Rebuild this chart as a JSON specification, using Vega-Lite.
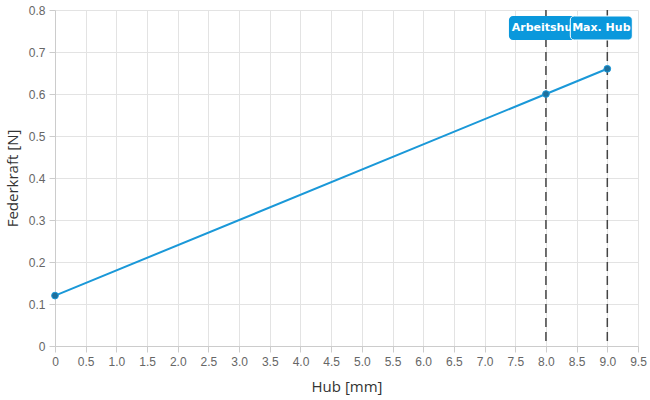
{
  "$schema": "https://vega.github.io/schema/vega-lite/v6.json",
  "width": 583,
  "height": 336,
  "autosize": {"type": "none"},
  "padding": {"left": 55, "top": 10, "right": 12, "bottom": 54},
  "config": {
    "view": {"stroke": null},
    "font": "Open Sans",
    "axis": {
      "gridColor": "#e3e3e3",
      "domainColor": "#cccccc",
      "tickColor": "#cccccc",
      "labelColor": "#666666",
      "labelFontSize": 12,
      "labelOverlap": false,
      "labelFlush": false,
      "labelFont": "Liberation Sans",
      "titleColor": "#333333",
      "titleFontSize": 15,
      "titleFontWeight": "normal",
      "tickSize": 6
    }
  },
  "datasets": {
    "pts": [
      {"hub": 0, "kraft": 0.12},
      {"hub": 8, "kraft": 0.6},
      {"hub": 9, "kraft": 0.66}
    ],
    "marks": [
      {"hub": 8, "label": "Arbeitshub"},
      {"hub": 9, "label": "Max. Hub"}
    ]
  },
  "encoding": {
    "x": {"field": "hub", "type": "quantitative", "title": "Hub [mm]",
      "scale": {"domain": [0, 9.5], "nice": false, "zero": false, "padding": 0},
      "axis": {"values": [0,0.5,1,1.5,2,2.5,3,3.5,4,4.5,5,5.5,6,6.5,7,7.5,8,8.5,9,9.5],
        "labelExpr": "datum.value == 0 ? '0' : format(datum.value, '.1f')",
        "labelPadding": 4, "titleY": 40, "titleBaseline": "middle"}}
  },
  "layer": [
    {
      "data": {"name": "pts"},
      "mark": {"type": "line", "color": "#1a98d8", "strokeWidth": 2},
      "encoding": {
        "y": {"field": "kraft", "type": "quantitative", "title": "Federkraft [N]",
          "scale": {"domain": [0, 0.8], "nice": false, "padding": 0},
          "axis": {"values": [0,0.1,0.2,0.3,0.4,0.5,0.6,0.7,0.8],
            "labelExpr": "datum.value == 0 ? '0' : format(datum.value, '.1f')",
            "labelPadding": 4, "titleX": -43, "titleBaseline": "middle"}}
      }
    },
    {
      "data": {"name": "marks"},
      "mark": {"type": "rule", "color": "#444444", "strokeWidth": 1.5, "strokeDash": [9, 5]},
      "encoding": {
        "y": {"datum": 0.8},
        "y2": {"datum": 0}
      }
    },
    {
      "data": {"name": "pts"},
      "mark": {"type": "point", "filled": true, "size": 45, "color": "#1e6f9c", "stroke": "#1a98d8", "strokeWidth": 1, "opacity": 1},
      "encoding": {
        "y": {"field": "kraft", "type": "quantitative"}
      }
    },
    {
      "data": {"name": "marks"},
      "transform": [{"filter": "datum.label == 'Arbeitshub'"}],
      "mark": {"type": "bar", "width": 74, "color": "#0a98dc", "cornerRadius": 4},
      "encoding": {
        "y": {"datum": 0.7857},
        "y2": {"datum": 0.7286}
      }
    },
    {
      "data": {"name": "marks"},
      "transform": [{"filter": "datum.label == 'Arbeitshub'"}],
      "mark": {"type": "text", "color": "white", "font": "DejaVu Sans", "fontWeight": "bold", "fontSize": 11, "align": "center", "baseline": "middle"},
      "encoding": {
        "y": {"datum": 0.757},
        "text": {"field": "label"}
      }
    },
    {
      "data": {"name": "marks"},
      "transform": [{"filter": "datum.label == 'Max. Hub'"}],
      "mark": {"type": "bar", "width": 62, "xOffset": -6, "color": "#0a98dc", "cornerRadius": 4, "stroke": "white", "strokeWidth": 1},
      "encoding": {
        "y": {"datum": 0.7857},
        "y2": {"datum": 0.7286}
      }
    },
    {
      "data": {"name": "marks"},
      "transform": [{"filter": "datum.label == 'Max. Hub'"}],
      "mark": {"type": "text", "color": "white", "font": "DejaVu Sans", "fontWeight": "bold", "fontSize": 11, "align": "center", "baseline": "middle", "xOffset": -6},
      "encoding": {
        "y": {"datum": 0.757},
        "text": {"field": "label"}
      }
    }
  ]
}
